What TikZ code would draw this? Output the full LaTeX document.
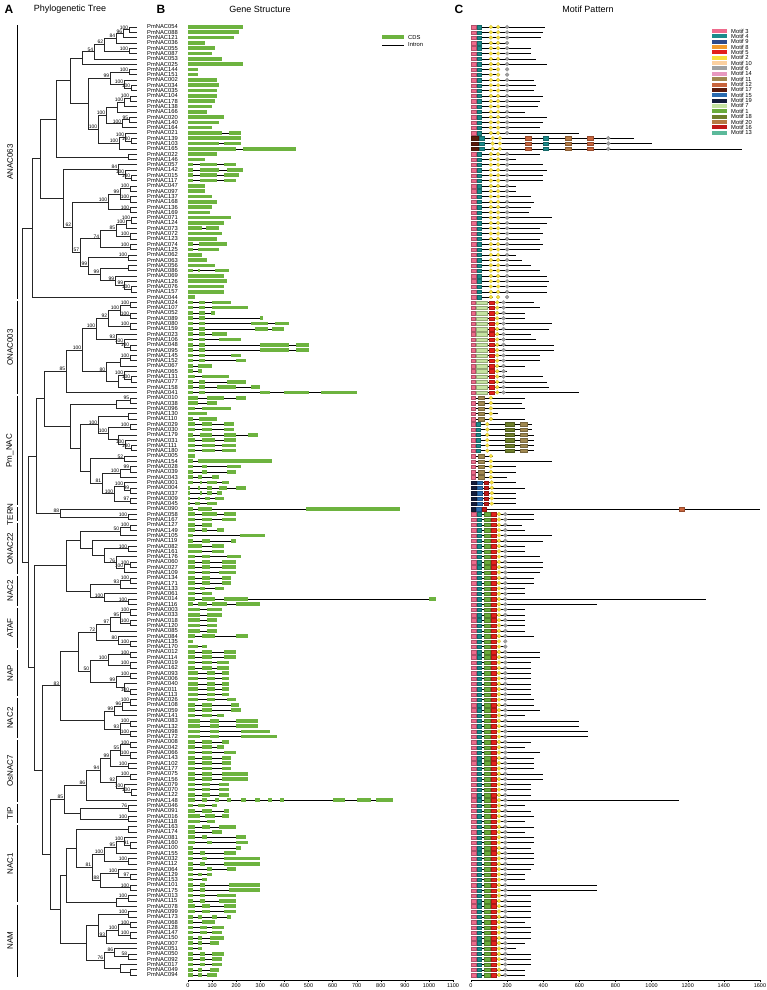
\documentclass[tikz,border=0pt]{standalone}
\usepackage{fontspec}
\setmainfont{Liberation Sans}
\usetikzlibrary{calc}

\definecolor{cds}{HTML}{6DB33F}
\definecolor{m3}{HTML}{EE6A8C}
\definecolor{m4}{HTML}{1B8A8A}
\definecolor{m9}{HTML}{2E4A8B}
\definecolor{m8}{HTML}{F39A2C}
\definecolor{m5}{HTML}{E3211C}
\definecolor{m2}{HTML}{F7E03C}
\definecolor{m10}{HTML}{FBD0A0}
\definecolor{m6}{HTML}{A0A0A0}
\definecolor{m14}{HTML}{E899C0}
\definecolor{m11}{HTML}{A08850}
\definecolor{m12}{HTML}{C8643C}
\definecolor{m17}{HTML}{5C1A0A}
\definecolor{m15}{HTML}{2B6CB0}
\definecolor{m19}{HTML}{141E3C}
\definecolor{m7}{HTML}{C5E3A1}
\definecolor{m1}{HTML}{6AAB3A}
\definecolor{m18}{HTML}{6E7E2A}
\definecolor{m20}{HTML}{B57A43}
\definecolor{m16}{HTML}{C01818}
\definecolor{m13}{HTML}{5BB99A}

\tikzset{
  tr/.style={line width=0.45pt, black!85},
  bs/.style={font=\fontsize{5}{5}\selectfont, inner sep=0.3pt, anchor=south east, xshift=-0.4pt},
  leafname/.style={font=\fontsize{5.8}{6}\selectfont, anchor=west, inner sep=0pt},
  hdr/.style={font=\fontsize{9}{9}\selectfont},
  panel/.style={font=\bfseries\fontsize{12}{12}\selectfont},
  grplab/.style={font=\fontsize{8}{8}\selectfont, rotate=90},
  brk/.style={line width=0.7pt},
  intronline/.style={line width=0.4pt},
  protline/.style={line width=0.4pt},
  axlab/.style={font=\fontsize{5.5}{5.5}\selectfont, below, inner sep=1pt},
  motiflab/.style={font=\fontsize{5.8}{6}\selectfont, anchor=west, inner sep=0pt}
}

% tree helper: name, x, child a, child b, support
\newcommand\clade[5]{%
  \path ($(#3)!.5!(#4)$) coordinate (#1m);
  \coordinate (#1) at (#2,0 |- #1m);
  \draw[tr] (#3) -- (#3 -| #1) -- (#4 -| #1) -- (#4);
  \ifx\relax#5\relax\else\node[bs] at (#1) {#5};\fi
}
% motif box and diamond (aa positions)
\newcommand\mtf[3]{\filldraw[fill=#1, draw=#1!75!black, line width=0.1pt] ({471+#2*0.1806},\yy-1.7) rectangle ({471+#3*0.1806},\yy+1.7);}
\newcommand\mdi[2]{\filldraw[fill=#1, draw=#1!75!black, line width=0.1pt] ({471+#2*0.1806-2},\yy) -- ++(2,2) -- ++(2,-2) -- ++(-2,-2) -- cycle;}
\newcommand\mota{\mtf{m3}{2}{27}\mtf{m4}{33}{58}\mdi{m2}{110}\mdi{m2}{150}\mdi{m6}{200}}
\newcommand\motb{\mtf{m17}{2}{40}\mtf{m4}{45}{70}\mdi{m2}{120}\mdi{m2}{160}\mtf{m12}{300}{335}\mtf{m4}{400}{425}\mtf{m20}{520}{555}\mtf{m12}{640}{675}\mdi{m6}{760}}
\newcommand\moto{\mtf{m3}{2}{24}\mtf{m7}{30}{90}\mtf{m5}{100}{125}\mdi{m2}{145}\mdi{m6}{180}}
\newcommand\motp{\mtf{m3}{2}{24}\mtf{m11}{40}{70}\mdi{m2}{110}}
\newcommand\motr{\mtf{m3}{2}{24}\mtf{m4}{28}{50}\mdi{m2}{90}\mtf{m18}{190}{240}\mtf{m11}{270}{310}}
\newcommand\motq{\mtf{m19}{2}{30}\mtf{m15}{35}{60}\mtf{m16}{70}{92}\mdi{m2}{115}}
\newcommand\mots{\mtf{m3}{2}{27}\mtf{m4}{33}{58}\mtf{m1}{70}{103}\mtf{m5}{110}{136}\mdi{m2}{155}\mdi{m6}{190}}
\newcommand\mott{\mtf{m19}{2}{25}\mtf{m15}{30}{55}\mtf{m16}{62}{85}\mtf{m12}{1150}{1178}}

\begin{document}
\begin{tikzpicture}[x=1pt, y=-1pt]
\useasboundingbox (0,0) rectangle (766,990);

% headers
\node[panel] (pa) at (9,9) {A};
\node[hdr] (ha) at (70,9) {Phylogenetic Tree};
\node[panel] (pb) at (161,9) {B};
\node[hdr] (hb) at (260,9) {Gene Structure};
\node[panel] (pc) at (459,9) {C};
\node[hdr] (hc) at (588,9) {Motif Pattern};

% leaves
\foreach \i in {1,...,180}
  \coordinate (L\i) at (137,{27+(\i-1)*5.296});

% ANAC063
\clade{a1}{129}{L1}{L2}{100}
\clade{a2}{123}{a1}{L3}{96}
\clade{a3}{116}{a2}{L4}{84}
\clade{b1}{129}{L5}{L6}{100}
\clade{a4}{104}{a3}{b1}{62}
\clade{a5}{94}{a4}{L7}{54}
\clade{a6}{82}{a5}{L8}{}
\clade{c1}{129}{L9}{L10}{100}
\clade{c2}{131}{L12}{L13}{100}
\clade{c3}{124}{L11}{c2}{100}
\clade{c4}{110}{c1}{c3}{99}
\clade{d1}{130}{L14}{L15}{100}
\clade{d2}{124}{d1}{L16}{100}
\clade{d3}{117}{d2}{L17}{}
\clade{e1}{129}{L18}{L19}{95}
\clade{e2}{122}{e1}{L20}{100}
\clade{d4}{106}{d3}{e2}{100}
\clade{f1}{131}{L22}{L23}{100}
\clade{f2}{125}{L21}{f1}{100}
\clade{f3}{119}{f2}{L24}{100}
\clade{f4}{98}{d4}{f3}{100}
\clade{g1}{88}{c4}{f4}{}
\clade{g2}{70}{a6}{g1}{}
\clade{h1}{128}{L25}{L26}{}
\clade{t1}{56}{g2}{h1}{}
\clade{i1}{131}{L29}{L30}{100}
\clade{i2}{125}{L28}{i1}{100}
\clade{i3}{118}{L27}{i2}{84}
\clade{j1}{130}{L31}{L32}{100}
\clade{j2}{130}{L33}{L34}{100}
\clade{j3}{120}{j1}{j2}{99}
\clade{j4}{130}{L35}{L36}{100}
\clade{j5}{108}{j3}{j4}{100}
\clade{k1}{131}{L37}{L38}{100}
\clade{k2}{126}{k1}{L39}{100}
\clade{k3}{130}{L40}{L41}{100}
\clade{k4}{116}{k2}{k3}{85}
\clade{k5}{130}{L42}{L43}{100}
\clade{k6}{100}{k4}{k5}{74}
\clade{l1}{128}{L44}{L45}{100}
\clade{l2}{128}{L46}{L47}{}
\clade{m1}{131}{L50}{L51}{100}
\clade{m2}{124}{L49}{m1}{99}
\clade{m3}{115}{L48}{m2}{99}
\clade{l3}{100}{l2}{m3}{99}
\clade{l4}{88}{l1}{l3}{99}
\clade{n1}{80}{k6}{l4}{57}
\clade{n2}{72}{j5}{n1}{62}
\clade{n3}{63}{i3}{n2}{}
\clade{an}{40}{t1}{n3}{}
\clade{an2}{32}{an}{L52}{}
% ONAC003
\clade{o1}{130}{L53}{L54}{100}
\clade{o2}{130}{L55}{L56}{100}
\clade{o3}{120}{o1}{o2}{100}
\clade{o4}{130}{L57}{L58}{100}
\clade{o5}{108}{o3}{o4}{92}
\clade{o6}{130}{L61}{L62}{100}
\clade{o7}{124}{L60}{o6}{100}
\clade{o8}{116}{L59}{o7}{93}
\clade{o9}{96}{o5}{o8}{100}
\clade{p1}{130}{L63}{L64}{100}
\clade{p2}{120}{p1}{L65}{}
\clade{p3}{131}{L67}{L68}{100}
\clade{p4}{124}{L66}{p3}{100}
\clade{p5}{118}{p4}{L69}{}
\clade{p6}{106}{p2}{p5}{80}
\clade{p7}{82}{o9}{p6}{100}
\clade{on}{66}{p7}{L70}{85}
% Pm_NAC
\clade{q1}{130}{L71}{L72}{95}
\clade{q2}{116}{q1}{L73}{}
\clade{q3}{128}{L74}{L75}{}
\clade{q4}{130}{L76}{L77}{100}
\clade{q5}{131}{L80}{L81}{100}
\clade{q6}{125}{L79}{q5}{100}
\clade{q7}{118}{L78}{q6}{}
\clade{q8}{108}{q4}{q7}{100}
\clade{q9}{98}{q3}{q8}{100}
\clade{r1}{124}{L82}{L83}{52}
\clade{r2}{130}{L84}{L85}{99}
\clade{r3}{120}{r2}{L86}{100}
\clade{r4}{130}{L88}{L89}{99}
\clade{r5}{124}{L87}{r4}{100}
\clade{r6}{130}{L90}{L91}{97}
\clade{r7}{114}{r5}{r6}{100}
\clade{r8}{102}{r3}{r7}{81}
\clade{r9}{90}{r1}{r8}{}
\clade{q10}{80}{q9}{r9}{}
\clade{pm}{70}{q2}{q10}{}
% TERN
\clade{s1}{128}{L93}{L94}{100}
\clade{te}{60}{L92}{s1}{88}
% ONAC22
\clade{u1}{130}{L95}{L96}{100}
\clade{u2}{120}{u1}{L97}{50}
\clade{u3}{128}{L99}{L100}{100}
\clade{u4}{130}{L102}{L103}{100}
\clade{u5}{124}{u4}{L104}{100}
\clade{u6}{116}{L101}{u5}{76}
\clade{u7}{104}{u3}{u6}{}
\clade{u8}{92}{L98}{u7}{}
\clade{u9}{80}{u2}{u8}{}
% NAC2
\clade{v1}{130}{L105}{L106}{100}
\clade{v2}{120}{v1}{L107}{93}
\clade{w1}{128}{L109}{L110}{100}
\clade{v3}{104}{L108}{w1}{100}
\clade{v4}{90}{v2}{v3}{}
% ATAF
\clade{x1}{130}{L111}{L112}{100}
\clade{x2}{130}{L113}{L114}{100}
\clade{x3}{120}{x1}{x2}{95}
\clade{x4}{110}{x3}{L115}{97}
\clade{x5}{130}{L117}{L118}{100}
\clade{x6}{118}{L116}{x5}{80}
\clade{x7}{96}{x4}{x6}{72}
% NAP
\clade{y1}{130}{L119}{L120}{100}
\clade{y2}{130}{L121}{L122}{100}
\clade{y3}{108}{y1}{y2}{100}
\clade{y4}{130}{L123}{L124}{100}
\clade{y5}{130}{L126}{L127}{100}
\clade{y6}{124}{L125}{y5}{}
\clade{y7}{116}{y4}{y6}{99}
\clade{y8}{90}{y3}{y7}{50}
% NAC2
\clade{z1}{130}{L128}{L129}{100}
\clade{z2}{122}{z1}{L130}{96}
\clade{z3}{114}{z2}{L131}{99}
\clade{z4}{130}{L132}{L133}{100}
\clade{z5}{130}{L134}{L135}{100}
\clade{z6}{120}{z4}{z5}{93}
\clade{z7}{104}{z3}{z6}{}
% OsNAC7
\clade{ea}{130}{L136}{L137}{100}
\clade{eb}{130}{L138}{L139}{100}
\clade{ec}{120}{ea}{eb}{55}
\clade{ed}{128}{L140}{L141}{100}
\clade{ee}{110}{ec}{ed}{99}
\clade{ef}{130}{L142}{L143}{100}
\clade{eg}{131}{L145}{L146}{100}
\clade{eh}{124}{L144}{eg}{100}
\clade{ei}{116}{ef}{eh}{92}
\clade{ej}{100}{ee}{ei}{94}
\clade{ek}{86}{ej}{L147}{86}
% TIP
\clade{ta}{128}{L148}{L149}{76}
\clade{tb}{128}{L150}{L151}{100}
\clade{tc}{80}{ta}{tb}{}
% NAC1
\clade{na}{128}{L152}{L153}{}
\clade{nb}{130}{L155}{L156}{91}
\clade{nc}{124}{L154}{nb}{100}
\clade{nd}{116}{nc}{L157}{95}
\clade{nf}{128}{L158}{L159}{100}
\clade{ne}{104}{nd}{nf}{100}
\clade{ng}{130}{L161}{L162}{97}
\clade{nh}{118}{L160}{ng}{100}
\clade{ni}{130}{L163}{L164}{100}
\clade{nj}{100}{nh}{ni}{88}
\clade{nk}{92}{ne}{nj}{81}
\clade{nl}{76}{na}{nk}{}
\clade{ma}{128}{L165}{L166}{100}
\clade{mb}{116}{ma}{L167}{}
\clade{nn}{66}{nl}{mb}{}
% NAM
\clade{mc}{128}{L168}{L169}{100}
\clade{md}{130}{L170}{L171}{100}
\clade{me}{130}{L172}{L173}{100}
\clade{mf}{118}{md}{me}{100}
\clade{mg}{106}{mf}{L174}{93}
\clade{mh}{98}{mc}{mg}{}
\clade{mi}{128}{L176}{L177}{58}
\clade{mj}{114}{L175}{mi}{86}
\clade{mk}{130}{L179}{L180}{}
\clade{ml}{120}{L178}{mk}{}
\clade{mm}{104}{mj}{ml}{76}
\clade{mn}{86}{mh}{mm}{}
\clade{nam}{60}{nn}{mn}{}
% backbone
\clade{k01}{44}{on}{pm}{}
\clade{k02}{36}{k01}{te}{}
\clade{k03}{66}{u9}{v4}{}
\clade{k04}{78}{x7}{y8}{}
\clade{k05}{60}{k04}{z7}{83}
\clade{k06}{64}{ek}{tc}{85}
\clade{k07}{50}{k06}{nam}{}
\clade{k08}{42}{k05}{k07}{}
\clade{k09}{34}{k03}{k08}{}
\clade{k10}{28}{k02}{k09}{}
\clade{root}{22}{an2}{k10}{}

% subfamily brackets
\foreach \a/\b/\t [count=\k] in {1/52/ANAC063,53/70/ONAC003,71/91/Pm\_NAC,92/94/TERN,95/104/ONAC22,105/110/NAC2,111/118/ATAF,119/127/NAP,128/135/NAC2,136/147/OsNAC7,148/151/TIP,152/166/NAC1,167/180/NAM}{
  \pgfmathsetmacro\ya{27+(\a-1)*5.296-1.6}
  \pgfmathsetmacro\yb{27+(\b-1)*5.296+1.6}
  \draw[brk] (17,\ya) -- (17,\yb);
  \node[grplab] (sf\k) at (10,{(\ya+\yb)/2}) {\t};
}

% genes: name / exons (bp) / protein length (aa) / motif layout
\foreach \nm/\ex/\ln/\mt [count=\i] in {
054/{0/230}/410/a, 088/{0/210}/400/a, 121/{0/190}/390/a, 036/{0/70}/200/a,
055/{0/110}/330/a, 087/{0/100}/330/a, 053/{0/140}/360/a, 025/{0/230}/420/a,
144/{0/40}/150/a, 151/{0/40}/160/a, 002/{0/120}/350/a, 034/{0/130}/360/a,
035/{0/120}/350/a, 104/{0/120}/400/a, 178/{0/110}/380/a, 138/{0/100}/370/a,
166/{0/80}/300/a, 020/{0/150}/420/a, 140/{0/130}/400/a, 164/{0/100}/380/a,
021/{0/140,170/220}/600/a, 139/{0/220}/900/b, 103/{0/130,150/220}/1000/b,
165/{0/200,230/450}/1500/b, 022/{0/120}/380/a, 146/{0/70}/250/a,
057/{0/20,50/120,150/200}/400/a, 142/{0/20,50/130,160/230}/420/a,
015/{0/20,50/120,150/210}/400/a, 117/{0/20,50/120,150/200}/400/a,
047/{0/70}/250/a, 097/{0/70}/250/a, 137/{0/100}/330/a, 168/{0/120}/350/a,
136/{0/100}/330/a, 169/{0/90}/320/a, 071/{0/180}/450/a, 124/{0/150}/420/a,
073/{0/60,75/130}/380/a, 072/{0/140}/400/a, 123/{0/120}/380/a,
074/{0/20,45/160}/400/a, 125/{0/20,40/130}/380/a, 062/{0/60}/250/a,
063/{0/80}/280/a, 056/{0/110}/330/a, 086/{0/20,40/50,110/170}/380/a,
069/{0/150}/420/a, 126/{0/160}/430/a, 076/{0/150}/420/a, 157/{0/150}/420/a,
044/{0/30}/120/a,
024/{0/20,45/70,100/180}/350/o, 107/{0/20,45/70,100/250}/380/o,
052/{0/20,45/70,95/110}/300/o, 089/{0/20,45/70,300/310}/300/o,
080/{0/20,45/70,260/330,360/420}/450/o, 159/{0/20,45/70,280/330,350/400}/430/o,
023/{0/20,45/70,100/160}/330/o, 106/{0/20,45/70,130/220}/360/o,
048/{0/20,45/70,300/420,450/500}/460/o, 095/{0/20,45/70,300/420,450/500}/460/o,
145/{0/20,45/70,180/220}/380/o, 152/{0/20,45/70,200/240}/380/o,
067/{0/20,40/100}/300/o, 065/{0/20,40/60}/200/o, 131/{0/30,60/170}/400/o,
077/{0/20,45/70,160/240}/420/o, 158/{0/20,45/70,120/200,260/300}/430/o,
041/{0/20,45/70,300/340,400/500,550/700}/600/o,
010/{0/40,80/150,200/240}/300/p, 038/{0/40,80/120}/280/p,
096/{0/30,60/180}/300/p, 130/{0/80}/150/p, 110/{0/20,45/120}/300/p,
029/{0/30,60/100,150/190}/340/r, 030/{0/30,60/100,150/190}/340/r,
179/{0/20,50/100,150/200,250/290}/350/r, 031/{0/30,60/110,150/200}/350/r,
111/{0/30,60/110,140/200}/350/r, 180/{0/30,60/110,140/200}/350/r,
005/{0/30}/120/p, 154/{0/20,40/350}/450/p, 028/{0/20,60/80,160/220}/250/p,
039/{0/20,60/80,160/200}/250/p, 043/{0/20,40/60,100/130}/200/p,
001/{0/20,50/60,80/120,140/170}/250/q, 004/{0/10,40/50,80/100,130/160,200/240}/300/q,
037/{0/10,50/60,80/100,120/140}/250/q, 009/{0/10,40/50,70/90,110/150}/250/q,
045/{0/10,30/50,80/120}/250/q,
090/{0/20,40/100,490/880}/1600/t, 058/{0/30,60/120,150/200}/350/s,
167/{0/30,60/100,140/200}/350/s,
127/{0/30,60/100}/280/s, 149/{0/30,60/80,120/150}/300/s, 105/{0/20,215/320}/450/s,
119/{0/20,60/90,180/200}/400/s, 082/{0/60,100/150}/300/s, 161/{0/60,100/150}/300/s,
176/{0/30,60/90,160/220}/380/s, 060/{0/30,60/90,140/200}/400/s,
027/{0/30,60/90,140/200}/400/s, 109/{0/30,60/90,130/200}/380/s,
134/{0/30,60/90,140/180}/350/s, 171/{0/30,60/90,140/180}/350/s,
133/{0/30,50/70,110/150}/300/s, 061/{0/30,60/100}/300/s,
014/{0/30,60/110,150/250,1000/1030}/1300/s, 116/{0/20,40/80,100/160,200/300}/700/s,
003/{0/50,80/140}/300/s, 033/{0/50,80/140}/300/s, 018/{0/50,80/120}/300/s,
120/{0/50,80/120}/300/s, 085/{0/50,80/120}/300/s, 084/{0/30,60/110,200/250}/350/s,
135/{0/20}/150/s, 170/{0/40,60/80}/200/s,
012/{0/30,60/100,150/200}/380/s, 114/{0/30,60/100,150/200}/380/s,
019/{0/30,60/100,120/170}/330/s, 162/{0/30,60/100,120/170}/330/s,
093/{0/40,80/110,140/170}/330/s, 006/{0/40,80/110,140/170}/330/s,
040/{0/40,80/110,140/170}/330/s, 011/{0/40,80/110,140/170}/330/s,
113/{0/40,80/110,140/170}/330/s,
026/{0/40,80/110,160/200}/350/s, 108/{0/30,60/100,180/210}/350/s,
059/{0/30,60/100,180/220}/380/s, 141/{0/30,60/100,120/150}/300/s,
083/{0/50,90/130,200/290}/600/s, 132/{0/50,90/130,200/290}/600/s,
098/{0/50,90/130,220/340}/650/s, 172/{0/50,90/130,220/370}/650/s,
008/{0/30,60/100,140/170}/330/s, 042/{0/30,60/100,120/150}/300/s,
066/{0/30,60/100,150/200}/380/s, 143/{0/30,60/100,140/180}/350/s,
102/{0/30,60/100,140/180}/350/s, 177/{0/30,60/100,140/180}/350/s,
075/{0/30,60/100,140/250}/400/s, 156/{0/30,60/100,140/250}/400/s,
079/{0/30,60/90,130/170}/330/s, 070/{0/30,60/90,130/170}/330/s,
122/{0/30,60/90,130/170}/330/s,
148/{0/30,60/80,110/130,160/180,220/240,280/300,330/350,380/400,600/650,700/760,780/850}/1150/s,
046/{0/20,40/70,100/120}/300/s, 091/{0/30,60/100,150/170}/330/s,
016/{0/50,70/110,140/170}/350/s, 118/{0/50,80/110}/300/s,
163/{0/30,60/90,130/200}/350/s, 174/{0/30,100/140}/300/s,
081/{0/30,60/80,200/240}/350/s, 160/{0/30,80/100,200/250}/350/s,
100/{0/20,200/220}/330/s, 155/{0/20,50/70,150/200}/350/s,
032/{0/20,60/80,150/300}/350/s, 112/{0/20,50/70,150/300}/350/s,
064/{0/20,80/100,160/200}/330/s, 129/{0/20,40/60,80/100}/300/s,
153/{0/20,60/80}/300/s, 101/{0/20,50/70,170/300}/700/s, 175/{0/20,50/70,170/300}/700/s,
013/{0/20,50/70,120/200}/330/s, 115/{0/20,50/70,130/200}/330/s,
078/{0/30,60/90,150/200}/330/s, 099/{0/30,60/90,150/200}/330/s,
173/{0/20,40/60,100/120,160/180}/330/s, 068/{0/20,60/110}/300/s,
128/{0/20,50/80,100/150}/330/s, 147/{0/20,50/80,100/140}/330/s,
150/{0/20,40/60,90/150}/330/s, 007/{0/20,40/60,90/130}/300/s,
051/{0/20,40/60}/250/s, 050/{0/20,50/70,100/150}/330/s,
092/{0/20,50/70,100/140}/330/s, 017/{0/20,50/70,100/140}/330/s,
049/{0/20,40/60,90/130}/300/s, 094/{0/20,40/60,80/120}/300/s}{
  \pgfmathsetmacro\yy{27+(\i-1)*5.296}
  \node[leafname] (g\nm) at (147,\yy) {PmNAC\nm};
  \foreach \a/\b [remember=\b as \pb (initially 0)] in \ex {
    \draw[intronline] ({188+\pb*0.241},\yy) -- ({188+\a*0.241},\yy);
    \fill[cds] ({188+\a*0.241},\yy-1.8) rectangle ({188+\b*0.241},\yy+1.8);
  }
  \draw[protline] (471,\yy) -- ({471+\ln*0.1806},\yy);
  \csname mot\mt\endcsname
}

% legend B
\fill[cds] (382,35.5) rectangle (404,39.5);
\node[motiflab] (lcds) at (408,37.5) {CDS};
\draw[intronline] (382,45) -- (404,45);
\node[motiflab] (lint) at (408,45) {Intron};

% legend C
\foreach \c/\t [count=\k] in {m3/3,m4/4,m9/9,m8/8,m5/5,m2/2,m10/10,m6/6,m14/14,m11/11,m12/12,m17/17,m15/15,m19/19,m7/7,m1/1,m18/18,m20/20,m16/16,m13/13}{
  \fill[\c] (712,{31+(\k-1)*5.35-2}) rectangle (727,{31+(\k-1)*5.35+2});
  \node[motiflab] (lm\k) at (731,{31+(\k-1)*5.35}) {Motif \t};
}

% axes
\draw[line width=0.4pt] (188,980) -- (453.1,980);
\foreach \t in {0,100,...,1100}
  \draw[line width=0.4pt] ({188+\t*0.241},980) -- ++(0,2) node[axlab] {\t};
\draw[line width=0.4pt] (471,980) -- (760,980);
\foreach \t in {0,200,...,1600}
  \draw[line width=0.4pt] ({471+\t*0.1806},980) -- ++(0,2) node[axlab] {\t};
\end{tikzpicture}
\end{document}
